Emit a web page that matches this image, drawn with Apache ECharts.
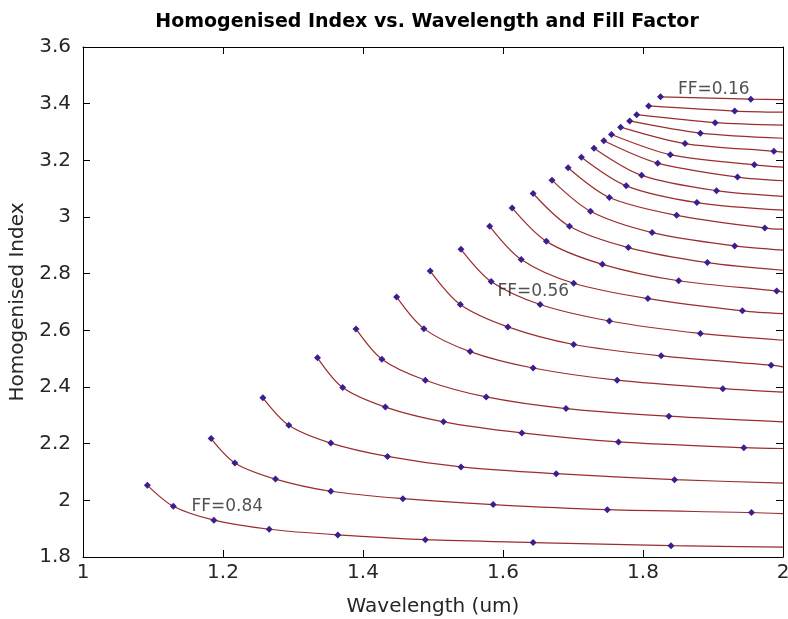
<!DOCTYPE html>
<html>
<head>
<meta charset="utf-8">
<script src="https://cdn.jsdelivr.net/npm/echarts@6/dist/echarts.min.js"></script>
<style>
  html, body { margin: 0; padding: 0; background: #fff; }
  #chart { width: 788px; height: 619px; }
</style>
</head>
<body>
<div id="chart"></div>
<script>
// Axis ticks
const wavelengthTicks = [1, 1.2, 1.4, 1.6, 1.8, 2];
const indexTicks = [1.8, 2, 2.2, 2.4, 2.6, 2.8, 3, 3.2, 3.4, 3.6];

// Sampled points of each fill-factor curve (wavelength in um), from FF=0.16 down to FF=0.84
const curveWavelength = [
  [1.825, 1.954],
  [1.808, 1.931],
  [1.791, 1.903],
  [1.781, 1.882],
  [1.768, 1.860, 1.987],
  [1.755, 1.839, 1.959],
  [1.744, 1.821, 1.935],
  [1.730, 1.798, 1.905],
  [1.712, 1.776, 1.877],
  [1.693, 1.752, 1.848, 1.974],
  [1.670, 1.725, 1.813, 1.931],
  [1.643, 1.695, 1.779, 1.892],
  [1.613, 1.662, 1.742, 1.851, 1.991],
  [1.581, 1.626, 1.701, 1.807, 1.942],
  [1.540, 1.583, 1.653, 1.752, 1.882],
  [1.496, 1.539, 1.607, 1.701, 1.826, 1.983],
  [1.448, 1.487, 1.553, 1.643, 1.763, 1.914],
  [1.390, 1.427, 1.489, 1.576, 1.690, 1.837],
  [1.335, 1.371, 1.432, 1.515, 1.627, 1.765, 1.944],
  [1.257, 1.294, 1.354, 1.435, 1.540, 1.676, 1.845],
  [1.183, 1.217, 1.275, 1.354, 1.457, 1.586, 1.749, 1.955],
  [1.092, 1.129, 1.187, 1.266, 1.364, 1.489, 1.643, 1.840]
];

// Homogenised index at those wavelengths
const curveIndex = [
  [3.424, 3.416],
  [3.392, 3.374],
  [3.361, 3.333],
  [3.339, 3.296],
  [3.317, 3.259, 3.232],
  [3.291, 3.220, 3.184],
  [3.269, 3.190, 3.141],
  [3.243, 3.147, 3.093],
  [3.211, 3.110, 3.051],
  [3.174, 3.069, 3.006, 2.961],
  [3.130, 3.020, 2.945, 2.898],
  [3.083, 2.967, 2.892, 2.839],
  [3.032, 2.914, 2.833, 2.775, 2.739],
  [2.967, 2.850, 2.766, 2.712, 2.669],
  [2.886, 2.772, 2.691, 2.633, 2.589],
  [2.809, 2.691, 2.612, 2.550, 2.510, 2.477],
  [2.718, 2.606, 2.525, 2.467, 2.424, 2.394],
  [2.605, 2.498, 2.424, 2.365, 2.324, 2.297],
  [2.503, 2.398, 2.329, 2.277, 2.238, 2.206, 2.186],
  [2.362, 2.265, 2.202, 2.155, 2.118, 2.094, 2.073],
  [2.218, 2.132, 2.075, 2.032, 2.006, 1.985, 1.967, 1.957],
  [2.053, 1.979, 1.930, 1.898, 1.878, 1.861, 1.851, 1.840]
];

// Index of each curve at the long-wavelength end (2 um)
const endWavelength = 2;
const endIndex = [
  3.414, 3.370, 3.324, 3.278, 3.229, 3.176, 3.128, 3.073, 3.024, 2.957, 2.883,
  2.812, 2.735, 2.659, 2.565, 2.471, 2.382, 2.277, 2.183, 2.061, 1.953, 1.835
];

// Fill-factor annotations
const ffLabels = ['FF=0.16', 'FF=0.56', 'FF=0.84'];
const ffLabelWavelength = [1.850, 1.592, 1.155];
const ffLabelIndex = [3.450, 2.737, 1.979];

const FONT = '"DejaVu Sans", Verdana, sans-serif';
const TEXT_COLOR = '#262626';

const curveSeries = curveWavelength.map((wl, i) => ({
  type: 'line',
  xAxisIndex: 0,
  yAxisIndex: 0,
  smooth: 0.3,
  symbol: 'diamond',
  symbolSize: 7,
  showAllSymbol: true,
  clip: true,
  lineStyle: { color: '#9c2d2d', width: 1.2 },
  itemStyle: { color: '#3a1f8e' },
  emphasis: { disabled: true },
  data: wl.map((w, j) => [w, curveIndex[i][j]])
    .concat([{ value: [endWavelength, endIndex[i]], symbol: 'none' }])
}));

const labelSeries = {
  type: 'scatter',
  xAxisIndex: 0,
  yAxisIndex: 0,
  symbolSize: 0,
  z: 5,
  label: {
    show: true,
    position: 'right',
    distance: 0,
    formatter: p => p.name,
    fontFamily: FONT,
    fontSize: 17,
    color: TEXT_COLOR
  },
  data: ffLabels.map((t, i) => ({ name: t, value: [ffLabelWavelength[i], ffLabelIndex[i]] }))
};

const axisLine = { show: true, onZero: false, lineStyle: { color: '#000', width: 1 } };
const tick = { show: true, inside: true, length: 7, lineStyle: { color: '#000' } };

const xRange = {
  type: 'value',
  min: wavelengthTicks[0],
  max: wavelengthTicks[wavelengthTicks.length - 1],
  interval: +(wavelengthTicks[1] - wavelengthTicks[0]).toFixed(3)
};
const yRange = {
  type: 'value',
  min: indexTicks[0],
  max: indexTicks[indexTicks.length - 1],
  interval: +(indexTicks[1] - indexTicks[0]).toFixed(3)
};

const chart = echarts.init(document.getElementById('chart'), null, { renderer: 'canvas' });
chart.setOption({
  animation: false,
  backgroundColor: '#fff',
  title: {
    text: 'Homogenised Index vs. Wavelength and Fill Factor',
    left: 422,
    textAlign: 'center',
    top: 8,
    textStyle: { fontFamily: FONT, fontSize: 19, fontWeight: 'bold', color: '#000' }
  },
  grid: { left: 83, right: 5, top: 47, bottom: 62, containLabel: false, outerBoundsMode: 'none' },
  xAxis: [
    Object.assign({}, xRange, {
      position: 'bottom',
      name: 'Wavelength (um)',
      nameLocation: 'middle',
      nameGap: 40,
      nameTextStyle: { fontFamily: FONT, fontSize: 20, color: TEXT_COLOR },
      axisLine, axisTick: tick,
      axisLabel: { fontFamily: FONT, fontSize: 20, color: TEXT_COLOR, margin: 6,
                   formatter: v => String(+v.toFixed(2)) },
      splitLine: { show: false }
    }),
    Object.assign({}, xRange, {
      position: 'top',
      axisLine, axisTick: tick,
      axisLabel: { show: false },
      splitLine: { show: false }
    })
  ],
  yAxis: [
    Object.assign({}, yRange, {
      position: 'left',
      name: 'Homogenised Index',
      nameLocation: 'middle',
      nameGap: 50,
      nameTextStyle: { fontFamily: FONT, fontSize: 20, color: TEXT_COLOR },
      axisLine, axisTick: tick,
      axisLabel: { fontFamily: FONT, fontSize: 20, color: TEXT_COLOR, margin: 12,
                   formatter: v => String(+v.toFixed(2)) },
      splitLine: { show: false }
    }),
    Object.assign({}, yRange, {
      position: 'right',
      axisLine, axisTick: tick,
      axisLabel: { show: false },
      splitLine: { show: false }
    })
  ],
  series: curveSeries.concat([labelSeries])
});
</script>
</body>
</html>
